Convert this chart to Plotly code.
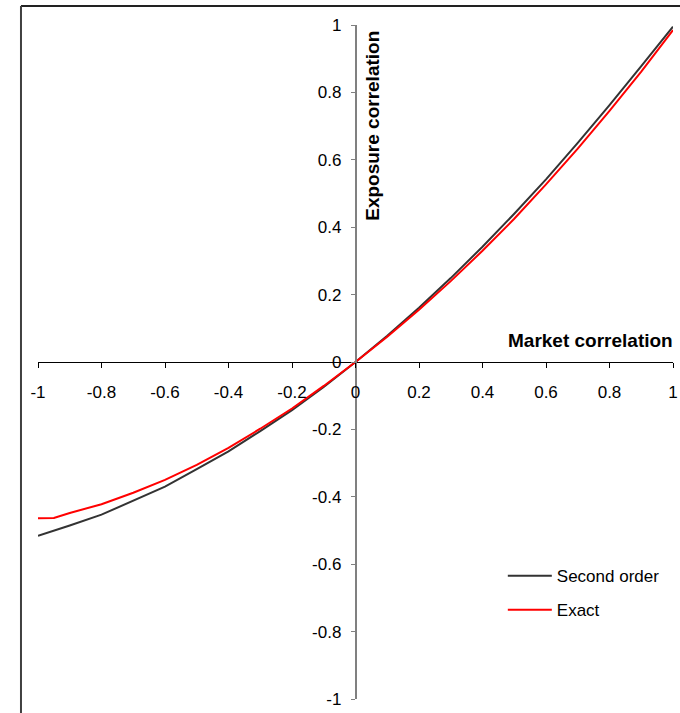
import plotly.graph_objects as go

# Market correlation grid and the two exposure-correlation curves
market_corr = [-1.0, -0.95, -0.9, -0.8, -0.7, -0.6, -0.5, -0.4, -0.3, -0.2, -0.1,
               0.0, 0.1, 0.2, 0.3, 0.4, 0.5, 0.6, 0.7, 0.8, 0.9, 1.0]
second_order = [-0.516, -0.501, -0.485, -0.453, -0.412, -0.370, -0.318, -0.265, -0.205,
                -0.143, -0.074, 0.0, 0.078, 0.161, 0.249, 0.342, 0.440, 0.542, 0.650,
                0.762, 0.878, 0.995]
exact = [-0.464, -0.463, -0.448, -0.422, -0.388, -0.350, -0.305, -0.255, -0.198,
         -0.138, -0.071, 0.0, 0.075, 0.155, 0.240, 0.330, 0.425, 0.527, 0.633,
         0.745, 0.862, 0.985]
tick_vals = [-1, -0.8, -0.6, -0.4, -0.2, 0, 0.2, 0.4, 0.6, 0.8, 1]
tick_text = ["-1", "-0.8", "-0.6", "-0.4", "-0.2", "0", "0.2", "0.4", "0.6", "0.8", "1"]

FONT = "Liberation Sans, Arial, sans-serif"

fig = go.Figure()
fig.add_trace(go.Scatter(x=market_corr, y=second_order, mode="lines", name="Second order",
                         legendgroup="a", line=dict(color="#333333", width=2)))
fig.add_trace(go.Scatter(x=market_corr, y=exact, mode="lines", name="Exact",
                         legendgroup="b", line=dict(color="#ff0000", width=2)))

fig.update_layout(
    width=680, height=713,
    margin=dict(l=38, r=7, t=25, b=14),
    paper_bgcolor="white", plot_bgcolor="white",
    font=dict(family=FONT, size=17, color="black"),
    showlegend=True,
    legend=dict(x=0.732, y=0.209, xanchor="left", yanchor="top",
                bgcolor="rgba(0,0,0,0)", tracegroupgap=9, itemwidth=44,
                font=dict(size=17)),
    xaxis=dict(range=[-1, 1], anchor="free", position=0.5, showgrid=False,
               zeroline=False, showline=True, linecolor="black", linewidth=1,
               ticks="outside", ticklen=5, tickcolor="black", tickwidth=1,
               tickvals=tick_vals, ticktext=tick_text, ticklabelstandoff=10,
               tickfont=dict(size=17), automargin=False),
    yaxis=dict(range=[-1, 1], anchor="free", position=0.5, showgrid=False,
               zeroline=False, showline=True, linecolor="#808080", linewidth=1.5,
               ticks="outside", ticklen=4, tickcolor="#808080", tickwidth=1,
               tickvals=tick_vals, ticktext=tick_text, ticklabelstandoff=6,
               tickfont=dict(size=17), automargin=False),
    annotations=[
        dict(text="<b>Market correlation</b>", x=1.0, y=0.065, xref="x", yref="y",
             xanchor="right", yanchor="middle", xshift=2, showarrow=False,
             font=dict(size=19, family=FONT)),
        dict(text="<b>Exposure correlation</b>", x=0.051, y=0.70, xref="x", yref="y",
             xanchor="center", yanchor="middle", textangle=-90, showarrow=False,
             font=dict(size=19, family=FONT)),
    ],
    shapes=[
        dict(type="line", xref="paper", yref="paper", x0=-0.0268, x1=1.2,
             y0=1.0282, y1=1.0282, line=dict(color="#222222", width=2)),
        dict(type="line", xref="paper", yref="paper", x0=-0.0268, x1=-0.0268,
             y0=-0.2, y1=1.0282, line=dict(color="#404040", width=2)),
    ],
)

fig.write_html("out.html")
